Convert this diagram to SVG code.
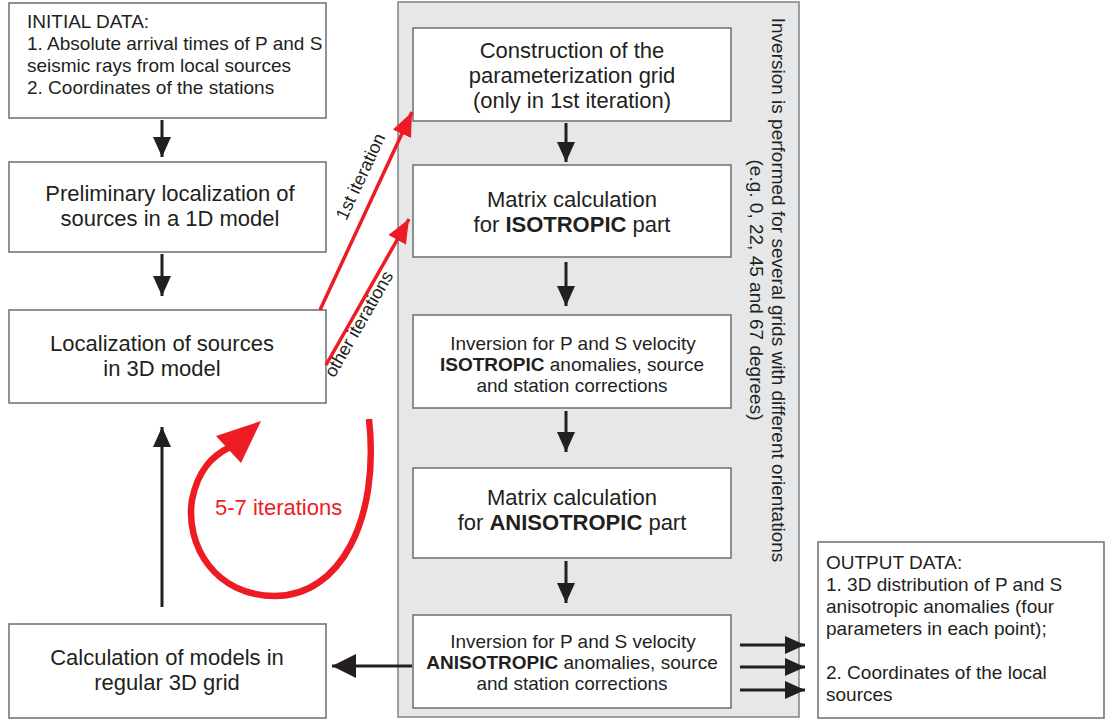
<svg xmlns="http://www.w3.org/2000/svg" width="1107" height="720" viewBox="0 0 1107 720">
  <style>
    .box { fill: #ffffff; stroke: #6d6e71; stroke-width: 1.5; }
    .panel { fill: #e6e7e8; stroke: #808285; stroke-width: 1.5; }
    text { font-family: "Liberation Sans", Arial, sans-serif; fill: #231f20; }
    .t22 { font-size: 22px; text-anchor: middle; }
    .t19 { font-size: 19px; text-anchor: middle; }
    .data { font-size: 19px; }
    .lbl { font-size: 18px; text-anchor: middle; }
    .red { fill: #ed1c24; }
    .lk { stroke: #231f20; stroke-width: 3; fill: none; }
    .lr { stroke: #ed1c24; stroke-width: 3.5; fill: none; }
    .b { font-weight: bold; }
  </style>
  <defs>
    <marker id="ah" markerUnits="userSpaceOnUse" markerWidth="20" markerHeight="18" refX="20" refY="9" orient="auto">
      <path d="M0,0 L20,9 L0,18 z" fill="#231f20"/>
    </marker>
    <marker id="ahBig" markerUnits="userSpaceOnUse" markerWidth="24" markerHeight="24" refX="24" refY="12" orient="auto">
      <path d="M0,0 L24,12 L0,24 z" fill="#231f20"/>
    </marker>
    <marker id="ahRed" markerUnits="userSpaceOnUse" markerWidth="24" markerHeight="20" refX="24" refY="10" orient="auto">
      <path d="M0,0 L24,10 L0,20 z" fill="#ed1c24"/>
    </marker>
  </defs>

  <!-- grey frame around the inversion loop -->
  <g id="inversion-panel">
    <rect class="panel" x="398" y="2" width="401" height="715"/>
    <text class="t19" transform="translate(772,290) rotate(90)">Inversion is performed for several grids with different orientations</text>
    <text class="t19" transform="translate(750,290) rotate(90)">(e.g. 0, 22, 45 and 67 degrees)</text>
  </g>

  <g id="initial-data">
    <rect class="box" x="9" y="3" width="317" height="115"/>
    <text class="data" x="27" y="28">INITIAL DATA:</text>
    <text class="data" x="27" y="50">1. Absolute arrival times of P and S</text>
    <text class="data" x="27" y="72">seismic rays from local sources</text>
    <text class="data" x="27" y="94">2. Coordinates of the stations</text>
  </g>

  <g id="preliminary-localization">
    <rect class="box" x="9" y="162" width="317" height="90"/>
    <text class="t22" x="170" y="201">Preliminary localization of</text>
    <text class="t22" x="170" y="226">sources in a 1D model</text>
  </g>

  <g id="localization-3d">
    <rect class="box" x="9" y="310" width="317" height="93"/>
    <text class="t22" x="162" y="351">Localization of sources</text>
    <text class="t22" x="162" y="376">in 3D model</text>
  </g>

  <g id="regular-grid">
    <rect class="box" x="9" y="624" width="317" height="94"/>
    <text class="t22" x="167" y="665">Calculation of models in</text>
    <text class="t22" x="167" y="690">regular 3D grid</text>
  </g>

  <g id="grid-construction">
    <rect class="box" x="413" y="28" width="318" height="93"/>
    <text class="t22" x="572" y="58">Construction of the</text>
    <text class="t22" x="572" y="83">parameterization grid</text>
    <text class="t22" x="572" y="108">(only in 1st iteration)</text>
  </g>

  <g id="matrix-isotropic">
    <rect class="box" x="413" y="165" width="318" height="92"/>
    <text class="t22" x="572" y="207">Matrix calculation</text>
    <text class="t22" x="572" y="232">for <tspan class="b">ISOTROPIC</tspan> part</text>
  </g>

  <g id="inversion-isotropic">
    <rect class="box" x="413" y="315" width="318" height="93"/>
    <text class="t19" x="573" y="350">Inversion for P and S velocity</text>
    <text class="t19" x="572" y="371"><tspan class="b">ISOTROPIC</tspan> anomalies, source</text>
    <text class="t19" x="572" y="392">and station corrections</text>
  </g>

  <g id="matrix-anisotropic">
    <rect class="box" x="413" y="468" width="318" height="90"/>
    <text class="t22" x="572" y="505">Matrix calculation</text>
    <text class="t22" x="572" y="530">for <tspan class="b">ANISOTROPIC</tspan> part</text>
  </g>

  <g id="inversion-anisotropic">
    <rect class="box" x="413" y="615" width="318" height="93"/>
    <text class="t19" x="573" y="648">Inversion for P and S velocity</text>
    <text class="t19" x="572" y="669"><tspan class="b">ANISOTROPIC</tspan> anomalies, source</text>
    <text class="t19" x="572" y="690">and station corrections</text>
  </g>

  <g id="output-data">
    <rect class="box" x="818" y="542" width="286" height="176"/>
    <text class="data" x="826" y="569">OUTPUT DATA:</text>
    <text class="data" x="826" y="591">1. 3D distribution of P and S</text>
    <text class="data" x="826" y="613">anisotropic anomalies (four</text>
    <text class="data" x="826" y="635">parameters in each point);</text>
    <text class="data" x="826" y="679">2. Coordinates of the local</text>
    <text class="data" x="826" y="701">sources</text>
  </g>

  <g id="connectors">
    <!-- main flow, left column -->
    <path class="lk" d="M162,120 V157" marker-end="url(#ah)"/>
    <path class="lk" d="M162,254 V296" marker-end="url(#ah)"/>
    <path class="lk" d="M162,607 V427" marker-end="url(#ah)"/>
    <!-- inversion chain -->
    <path class="lk" d="M566,123 V162" marker-end="url(#ah)"/>
    <path class="lk" d="M566,262 V306" marker-end="url(#ah)"/>
    <path class="lk" d="M566,411 V452" marker-end="url(#ah)"/>
    <path class="lk" d="M566,561 V603" marker-end="url(#ah)"/>
    <!-- results -->
    <path class="lk" d="M412,666 H332" marker-end="url(#ahBig)"/>
    <path class="lk" d="M740,645 H805" marker-end="url(#ah)"/>
    <path class="lk" d="M740,667 H805" marker-end="url(#ah)"/>
    <path class="lk" d="M740,690 H805" marker-end="url(#ah)"/>
    <!-- iteration feedback -->
    <path class="lr" d="M320,310 L412,112" marker-end="url(#ahRed)"/>
    <path class="lr" d="M326,365 L409,219" marker-end="url(#ahRed)"/>
    <text class="lbl" transform="translate(366,179) rotate(-65)">1st iteration</text>
    <text class="lbl" transform="translate(364,327) rotate(-60)">other iterations</text>
    <!-- loop between localization and inversion -->
    <path d="M369,419 C380,520 340,596 275,596 C215,596 185,545 192,500 C198,470 212,456 230,447" fill="none" stroke="#ed1c24" stroke-width="6.5"/>
    <polygon points="261,421 216,436 241,463" fill="#ed1c24"/>
    <text class="red" font-size="22" x="215" y="515">5-7 iterations</text>
  </g>
</svg>
